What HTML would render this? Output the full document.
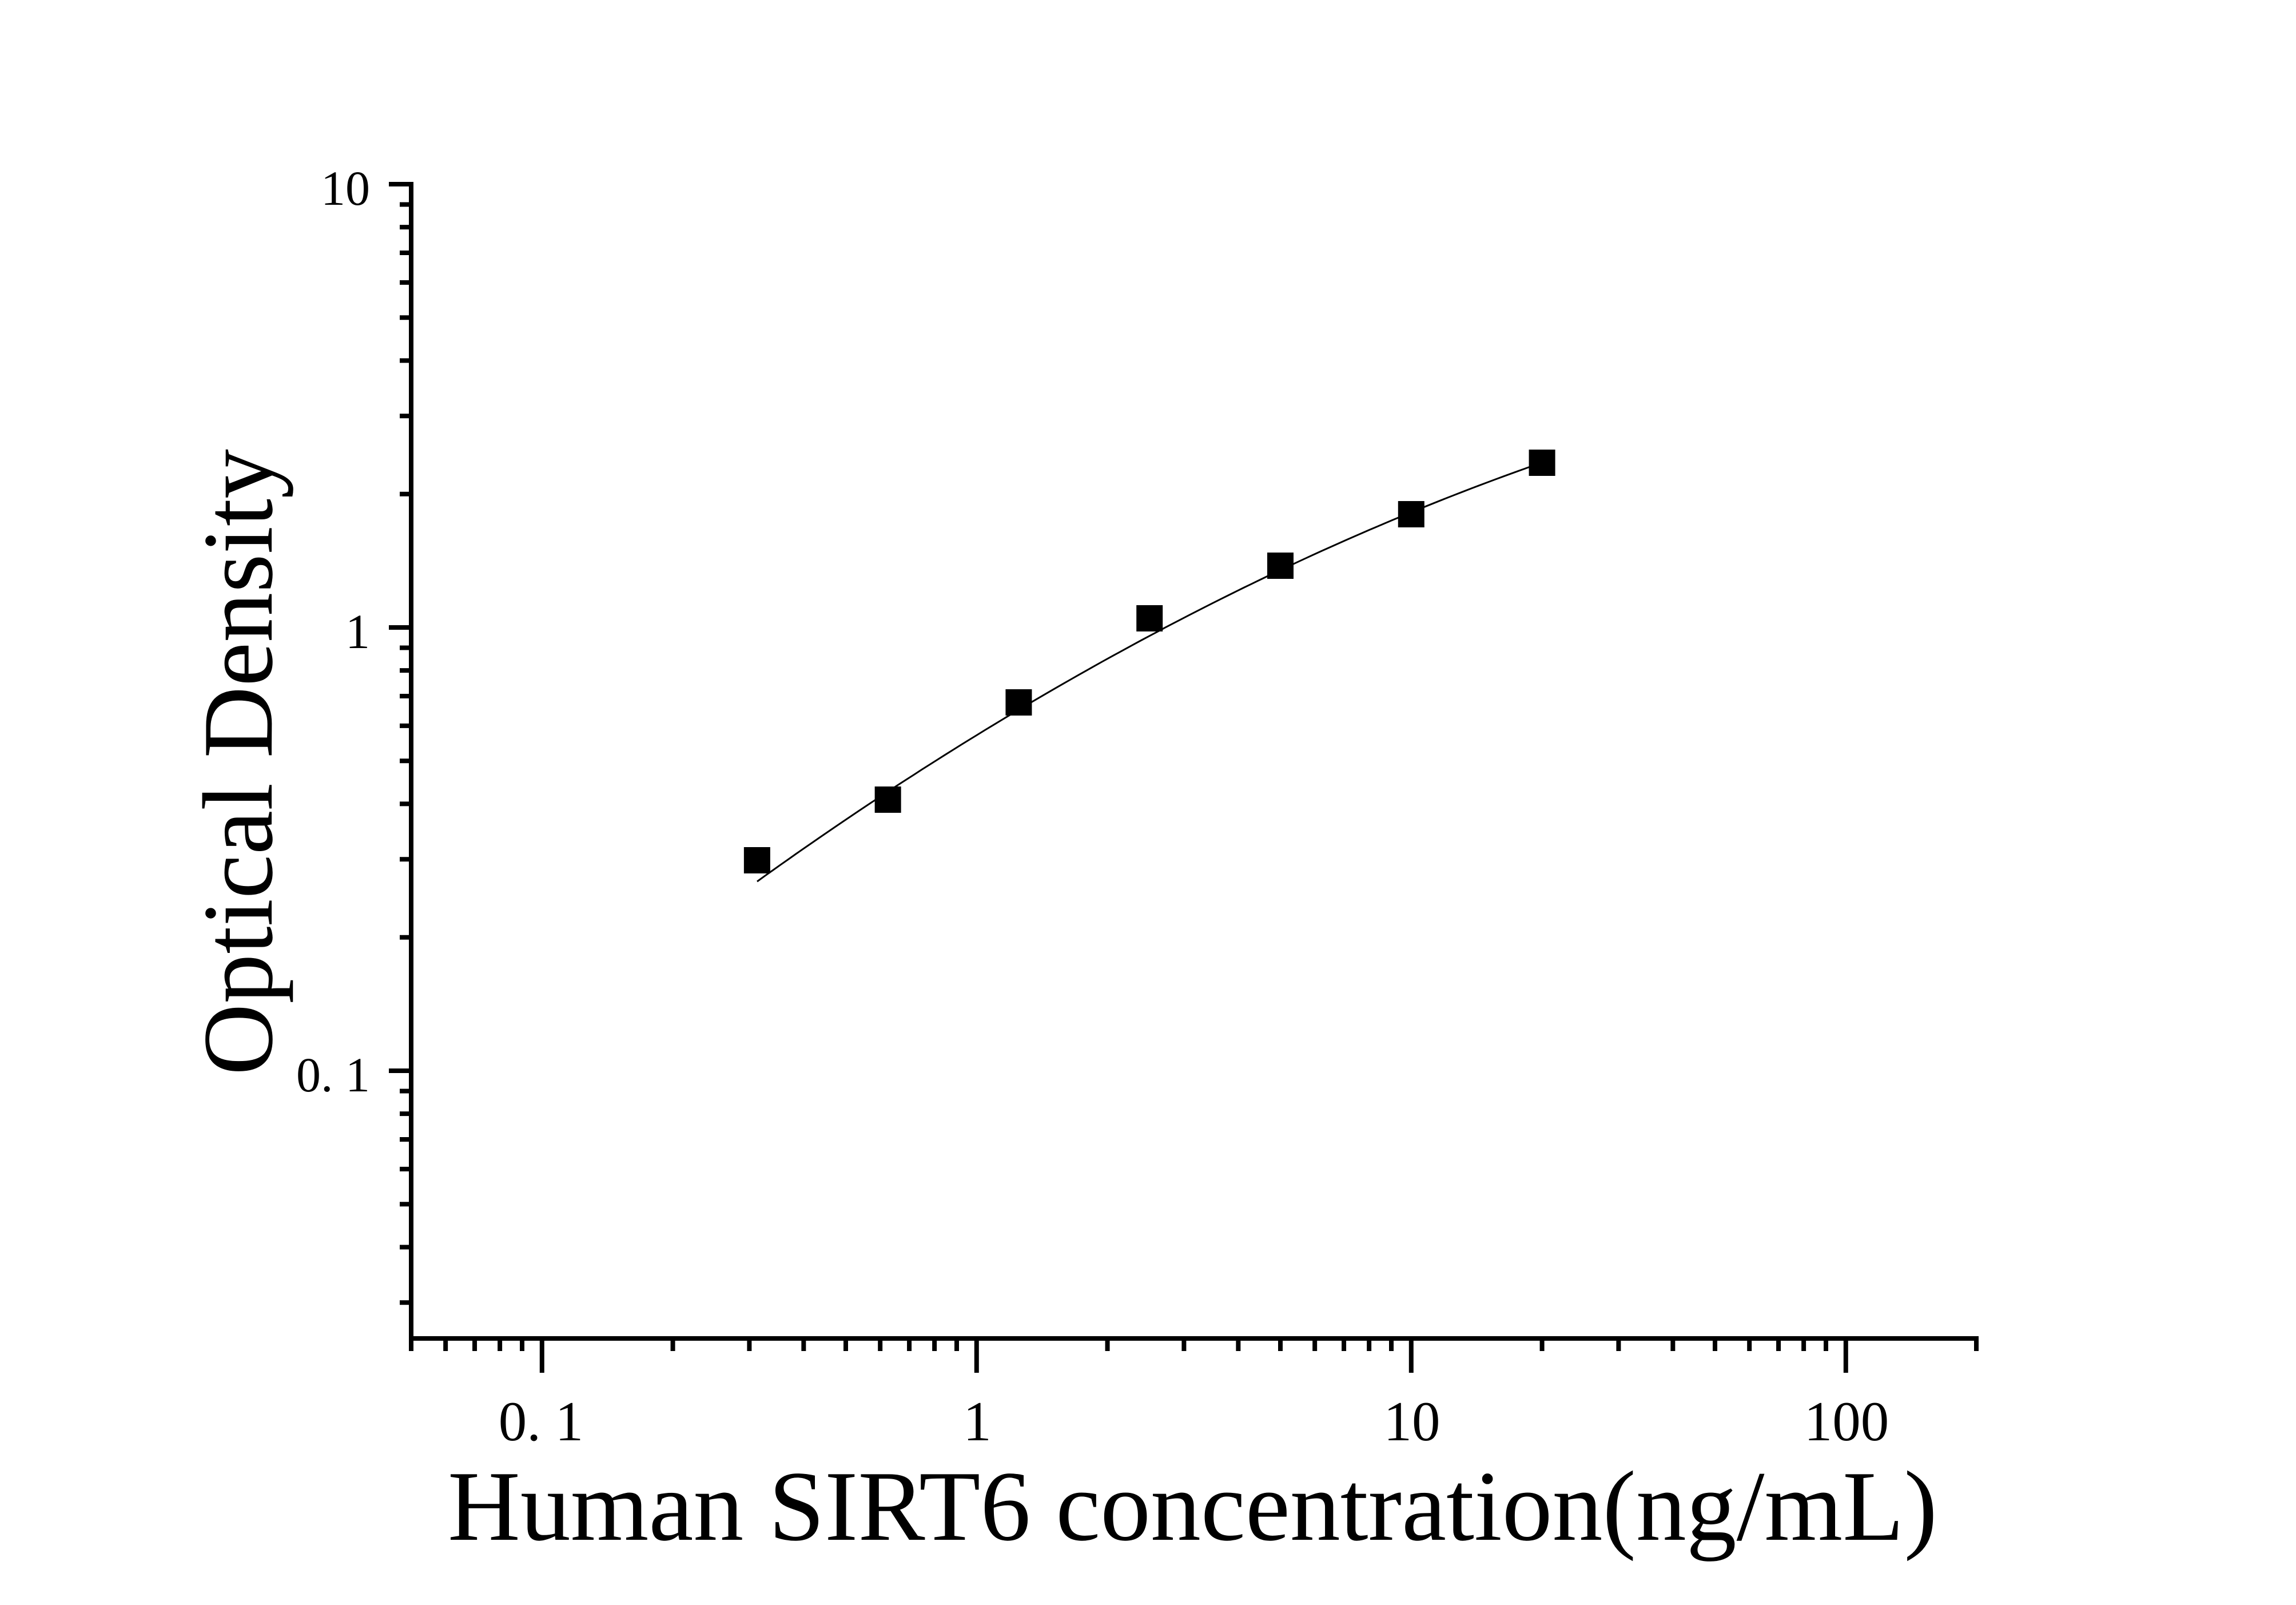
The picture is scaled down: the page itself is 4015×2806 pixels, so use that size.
<!DOCTYPE html>
<html><head><meta charset="utf-8"><style>html,body{margin:0;padding:0;background:#fff}svg{display:block}</style></head>
<body>
<svg id="s" xmlns="http://www.w3.org/2000/svg" width="4015" height="2806" viewBox="0 0 4015 2806">
<rect width="4015" height="2806" fill="#fff"/>
<g id="ax" stroke="#000" stroke-width="8" fill="none"><path d="M719,318 V2340 H3460"/></g>
<g font-family="Liberation Serif, serif" fill="#000">
<text x="647" y="358" font-size="86" text-anchor="end">10</text>
<text x="647" y="1133" font-size="86" text-anchor="end">1</text>
<text x="647" y="1908" font-size="86" text-anchor="end">0. 1</text>
<text x="946" y="2518" font-size="99" text-anchor="middle">0. 1</text>
<text x="1709" y="2518" font-size="99" text-anchor="middle">1</text>
<text x="2469" y="2518" font-size="99" text-anchor="middle">10</text>
<text x="3229" y="2518" font-size="99" text-anchor="middle">100</text>
<text x="783" y="2692" font-size="175" textLength="2605" lengthAdjust="spacingAndGlyphs">Human SIRT6 concentration(ng/mL)</text>
<text transform="translate(475,1880) rotate(-90)" x="0" y="0" font-size="175" textLength="1095" lengthAdjust="spacingAndGlyphs">Optical Density</text>
</g>
<path id="curve" fill="none" stroke="#000" stroke-width="3"/>
<g id="pts" fill="#000"></g>
<script>
var NS="http://www.w3.org/2000/svg";
var X0=719,XD=760,Y1=1097,YD=775;
function px(v){return X0+XD*Math.log10(v/0.05);}
function py(v){return Y1-YD*Math.log10(v);}
var ax=document.getElementById('ax');
function ln(x1,y1,x2,y2){var l=document.createElementNS(NS,'line');l.setAttribute('x1',x1);l.setAttribute('y1',y1);l.setAttribute('x2',x2);l.setAttribute('y2',y2);ax.appendChild(l);}
ln(680,322,719,322);ln(680,1097,719,1097);ln(680,1872,719,1872);
[2,3,4,5,6,7,8,9,0.2,0.3,0.4,0.5,0.6,0.7,0.8,0.9,0.03,0.04,0.05,0.06,0.07,0.08,0.09].forEach(function(v){var y=py(v);ln(699,y,719,y);});
[0.1,1,10,100].forEach(function(v){var x=px(v);ln(x,2340,x,2400);});
[0.05,0.06,0.07,0.08,0.09,0.2,0.3,0.4,0.5,0.6,0.7,0.8,0.9,2,3,4,5,6,7,8,9,20,30,40,50,60,70,80,90,200].forEach(function(v){var x=px(v);if(v==0.05)x=719;if(v==200)x=3456;ln(x,2340,x,2362);});
var xs=[0.3125,0.625,1.25,2.5,5,10,20],ys=[1504,1398,1228,1081,989,899,809],g=document.getElementById('pts');
for(var i=0;i<7;i++){var x=px(xs[i]);var r=document.createElementNS(NS,'rect');r.setAttribute('x',x-23);r.setAttribute('y',ys[i]-23);r.setAttribute('width',46);r.setAttribute('height',46);g.appendChild(r);}
var u1=-0.505,u3=1.301,y1=-0.573,y3=0.372,a=-0.1,L=u3-u1,b=(y3-y1)/L-a*L,d='';
for(var k=0;k<=100;k++){var t=k*L/100;var yy=y1+b*t+a*t*t;var xx=X0+XD*(u1+t-Math.log10(0.05));var y=Y1-YD*yy;d+=(k?'L':'M')+xx.toFixed(1)+','+y.toFixed(1);}
document.getElementById('curve').setAttribute('d',d);
</script>
</svg>
</body></html>
